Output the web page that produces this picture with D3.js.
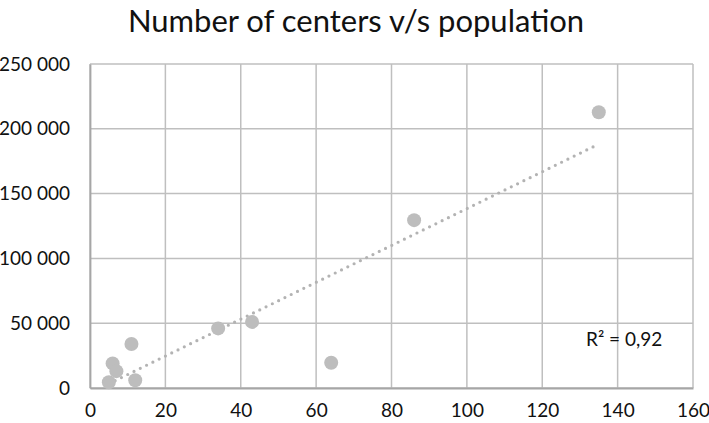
<!DOCTYPE html>
<html><head><meta charset="utf-8">
<script src="https://cdn.jsdelivr.net/npm/d3@7"></script>
<style>body{margin:0;background:#fff}svg{display:block}text{font-family:Lato,"Open Sans",sans-serif}</style>
</head><body>
<script>
const title = "Number of centers v/s population";
const centers = [5, 6, 7, 11, 12, 34, 43, 64, 86, 135];
const population = [4400, 19000, 13000, 34000, 6000, 46000, 51000, 19500, 129500, 212800];
const xTicks = [0, 20, 40, 60, 80, 100, 120, 140, 160];
const yTicks = [0, 50000, 100000, 150000, 200000, 250000];
const r2Label = "R² = 0,92";

const W = 709, H = 423;
const m = {left: 90, right: 16, top: 64, bottom: 35};
const svg = d3.select("body").append("svg").attr("width", W).attr("height", H);

const x = d3.scaleLinear().domain([0, 160]).range([m.left, W - m.right]);
const y = d3.scaleLinear().domain([0, 250000]).range([H - m.bottom, m.top]);

const fmt = v => d3.format(",")(v).replace(/,/g, " ");

// grid
const g = svg.append("g");
g.selectAll(".vx").data(xTicks).join("line")
  .attr("x1", d => x(d)).attr("x2", d => x(d))
  .attr("y1", y(0)).attr("y2", y(250000))
  .attr("stroke", "#bfbfbf").attr("stroke-width", 1.5);
g.selectAll(".hy").data(yTicks).join("line")
  .attr("x1", x(0)).attr("x2", x(160))
  .attr("y1", d => y(d)).attr("y2", d => y(d))
  .attr("stroke", "#bfbfbf").attr("stroke-width", 1.5);

// axes
const xAxis = svg.append("g").attr("transform", `translate(0,${y(0)})`)
  .call(d3.axisBottom(x).tickValues(xTicks).tickSize(0).tickPadding(16));
xAxis.select(".domain").attr("stroke", "#a6a6a6").attr("stroke-width", 1.8);
xAxis.selectAll("text").attr("font-size", 19).attr("fill", "#111");

const yAxis = svg.append("g").attr("transform", `translate(${x(0)},0)`)
  .call(d3.axisLeft(y).tickValues(yTicks).tickFormat(fmt).tickSize(0).tickPadding(20));
yAxis.select(".domain").attr("stroke", "#a6a6a6").attr("stroke-width", 1.8);
yAxis.selectAll("text").attr("font-size", 19).attr("fill", "#111");

// trendline (least squares)
const n = centers.length;
const mx = d3.mean(centers), my = d3.mean(population);
let sxy = 0, sxx = 0;
for (let i = 0; i < n; i++) { sxy += (centers[i]-mx)*(population[i]-my); sxx += (centers[i]-mx)**2; }
const slope = sxy / sxx, icpt = my - slope * mx;
const x0 = d3.min(centers), x1 = d3.max(centers);
svg.append("line")
  .attr("x1", x(x0)).attr("y1", y(icpt + slope*x0))
  .attr("x2", x(x1)).attr("y2", y(icpt + slope*x1))
  .attr("stroke", "#b3b3b3").attr("stroke-width", 3.2)
  .attr("stroke-linecap", "round").attr("stroke-dasharray", "0 7");

// points
svg.selectAll(".pt").data(centers).join("circle")
  .attr("cx", d => x(d)).attr("cy", (d, i) => y(population[i]))
  .attr("r", 7).attr("fill", "#bdbdbd");

// title
svg.append("text").attr("x", 356).attr("y", 32).attr("text-anchor", "middle")
  .attr("font-size", 31).attr("fill", "#111").text(title);

// R2
svg.append("text").attr("x", 586).attr("y", 346).attr("font-size", 19).attr("fill", "#111").text(r2Label);
</script>
</body></html>
